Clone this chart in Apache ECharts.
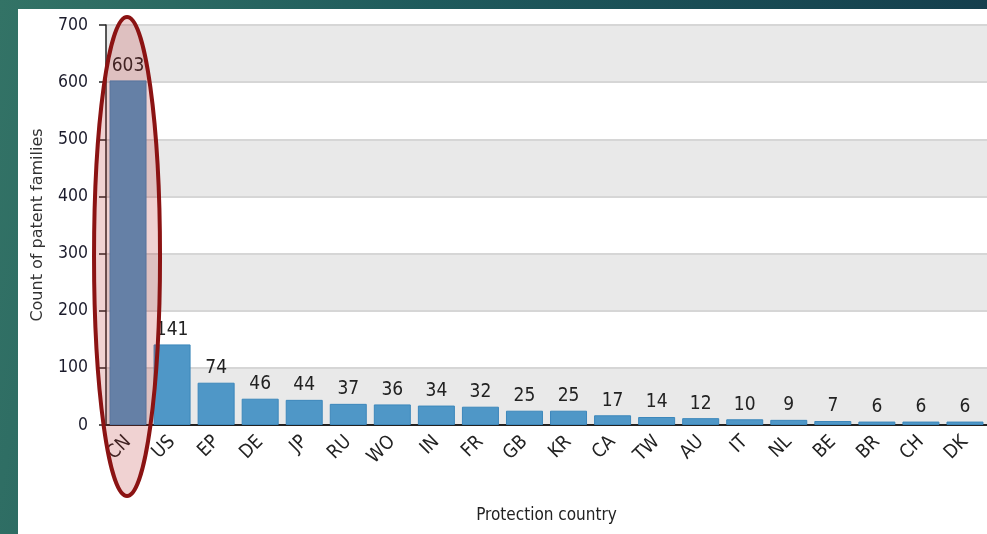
<!DOCTYPE html>
<html>
<head>
<meta charset="utf-8">
<script src="https://cdn.jsdelivr.net/npm/echarts@6/dist/echarts.min.js"></script>
<style>
  html, body { margin: 0; padding: 0; }
  body { width: 987px; height: 534px; overflow: hidden; position: relative;
         background: linear-gradient(100deg, #337366 0%, #1f5a5c 40%, #133a4b 100%); }
  #paper { position: absolute; left: 18px; top: 9px; right: 0; bottom: 0; background: #fff; }
  #chart { position: absolute; left: 0; top: 0; width: 987px; height: 534px; }
</style>
</head>
<body>
<div id="paper"></div>
<div id="chart"></div>
<script>
var countries = ['CN','US','EP','DE','JP','RU','WO','IN','FR','GB','KR','CA','TW','AU','IT','NL','BE','BR','CH','DK'];
var families = [603,141,74,46,44,37,36,34,32,25,25,17,14,12,10,9,7,6,6,6];
var yTicks = { min: 0, max: 700, interval: 100 };
var highlighted = 'CN';

var narrow = '"Liberation Sans Narrow", "DejaVu Sans Condensed", sans-serif';

var myChart = echarts.init(document.getElementById('chart'));

var option = {
    animation: false,
    grid: { left: 106, top: 25, width: 887, height: 400 },
    xAxis: {
        type: 'category',
        data: countries,
        name: 'Protection country',
        nameLocation: 'middle',
        nameGap: 82,
        nameTextStyle: { fontFamily: narrow, fontSize: 17, color: '#222' },
        axisLine: { lineStyle: { color: '#222', width: 2 } },
        axisTick: { alignWithLabel: true, length: 8, lineStyle: { color: '#222', width: 1.5 } },
        axisLabel: { rotate: 45, margin: 14, fontFamily: narrow, fontSize: 19, color: '#222' }
    },
    yAxis: {
        type: 'value',
        min: yTicks.min,
        max: yTicks.max,
        interval: yTicks.interval,
        name: 'Count of patent families',
        nameLocation: 'middle',
        nameRotate: 90,
        nameGap: 60,
        nameTextStyle: { fontFamily: '"DejaVu Sans", sans-serif', fontSize: 16, color: '#333' },
        axisLine: { show: true, lineStyle: { color: '#222', width: 1.5 } },
        axisTick: { show: true, length: 7, lineStyle: { color: '#222', width: 1.5 } },
        axisLabel: { margin: 18, fontFamily: narrow, fontSize: 17.5, color: '#1b1b2b' },
        splitLine: { lineStyle: { color: '#d6d6d6', width: 2 } },
        splitArea: { show: true, areaStyle: { color: ['#e9e9e9', '#ffffff'] } }
    },
    series: [{
        type: 'bar',
        data: families,
        barWidth: 37,
        itemStyle: { color: '#4f97c7', borderColor: '#3c87bb', borderWidth: 1 },
        label: { show: true, position: 'top', distance: 5, fontFamily: narrow, fontSize: 19, color: '#222' }
    }]
};

myChart.setOption(option);

// red ellipse around the highlighted bar
var cx = myChart.convertToPixel({ xAxisIndex: 0 }, highlighted);
var yTop = myChart.convertToPixel({ yAxisIndex: 0 }, yTicks.max) - 8;
var yBottom = myChart.convertToPixel({ yAxisIndex: 0 }, 0) + 71;
myChart.setOption({
    graphic: [{
        type: 'ellipse',
        z: 100,
        shape: { cx: cx - 1, cy: (yTop + yBottom) / 2, rx: 33, ry: (yBottom - yTop) / 2 },
        style: { fill: 'rgba(185,42,42,0.21)', stroke: '#8b1313', lineWidth: 4 }
    }]
});
</script>
</body>
</html>
